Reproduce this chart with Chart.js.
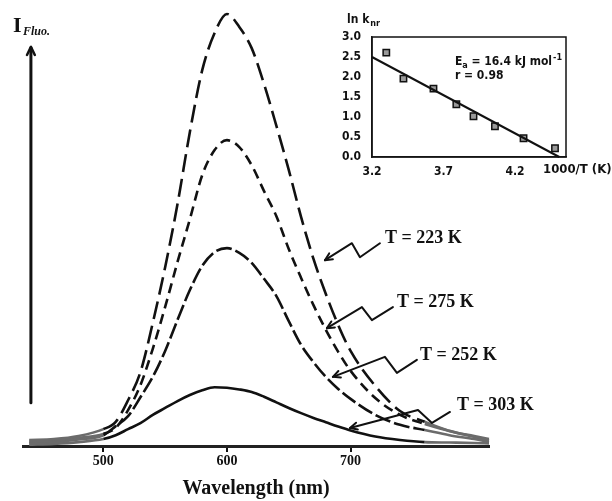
<!DOCTYPE html>
<html><head><meta charset="utf-8">
<script src="https://cdn.jsdelivr.net/npm/chart.js@4.4.1/dist/chart.umd.min.js"></script>
<style>
html,body{margin:0;padding:0;background:#fff;}
#wrap{position:relative;width:612px;height:501px;overflow:hidden;}
#main{position:absolute;left:0;top:0;}
#inset{position:absolute;left:330px;top:0;}
</style></head><body>
<div id="wrap">
<canvas id="main" width="612" height="501"></canvas>
<canvas id="inset" width="282" height="185"></canvas>
</div>
<script>
// ---------- main spectra (wavelength nm, fluorescence intensity, arb. units) ----------
const wavelengths = [440,460,480,500,510,520,530,540,550,560,570,580,590,600,610,620,630,640,650,660,670,680,690,700,720,740,760,780,800,812];
const I_223K = [1.4,1.6,2.3,3.9,5.6,10.6,17.1,28.5,41.4,56.0,72.7,87.0,95.6,100,97.0,92.1,83.8,74.1,63.9,53.0,43.3,35.2,28.0,22.0,13.9,8.1,5.6,3.5,2.3,1.6];
const I_275K = [1.0,1.3,1.9,2.8,4.2,8.3,14.1,22.5,32.2,42.6,52.5,62.7,68.5,70.8,69.2,65.0,59.0,53.2,45.6,38.9,32.6,26.9,21.8,17.4,11.1,7.2,5.1,3.5,2.1,1.3];
const I_252K = [0.7,0.9,1.5,2.5,4.6,6.9,11.3,16.0,22.0,29.2,36.1,41.7,44.9,45.8,44.7,42.4,38.7,34.7,28.9,23.4,19.4,16.0,13.2,10.9,7.2,4.9,3.7,2.5,1.6,0.9];
const I_303K = [0.3,0.5,0.9,1.6,2.5,3.9,5.3,7.2,8.8,10.4,11.8,12.9,13.6,13.5,13.1,12.5,11.4,10.1,8.8,7.6,6.5,5.5,4.5,3.6,2.2,1.4,0.9,0.8,0.7,0.6];
const seriesLabels = ['T = 223 K','T = 275 K','T = 252 K','T = 303 K'];
const xTicks = [500,600,700];
const xTitle = 'Wavelength (nm)';

// ---------- inset: Arrhenius plot ----------
const invT   = [3.30,3.42,3.63,3.79,3.91,4.06,4.26,4.48];
const lnKnr  = [2.61,1.96,1.71,1.32,1.02,0.77,0.47,0.22];
const fitX   = [3.2,4.51];
const fitY   = [2.5,0.0];
const insetXTicks = [3.2,3.7,4.2];
const insetYTicks = [0,0.5,1,1.5,2,2.5,3];

const serif = "'Liberation Serif','DejaVu Serif',serif";
const narrow = "'Liberation Sans Narrow','DejaVu Sans Condensed','Liberation Sans',sans-serif";
const ink = '#111';

// label placement (data units) + zig-zag leader offsets (px)
const tempLabels = [
  {text:seriesLabels[0], x:727.8, y:48.1, path:[[-5,5],[-25,19],[-33,5],[-60,22]]},
  {text:seriesLabels[1], x:737.5, y:33.3, path:[[-4,5],[-25,18],[-35,5],[-70,26]]},
  {text:seriesLabels[2], x:756.1, y:21.1, path:[[-3,5],[-23,18],[-35,2],[-87,22]]},
  {text:seriesLabels[3], x:786.1, y:9.5,  path:[[-7,7],[-25,18],[-39,5],[-107,23]]}
];
const yArrow = {x:441.4, from:10, to:92.4};

function tail(ctx){ return ctx.p1.parsed.x <= 500 || ctx.p0.parsed.x >= 760; }
function ds(label, vals, dash){
  return {
    label, data: wavelengths.map((x,i)=>({x, y:vals[i]})),
    borderColor: ink, borderWidth: 2.6, borderDash: dash, pointRadius: 0,
    cubicInterpolationMode: 'monotone', fill: false, clip: false,
    segment: {
      borderColor: c => tail(c) ? '#6b6b6b' : undefined,
      borderDash: c => tail(c) ? [] : undefined
    }
  };
}

function arrowHead(ctx, fx, fy, tx, ty, len){
  const a = Math.atan2(ty-fy, tx-fx);
  ctx.beginPath();
  ctx.moveTo(tx - len*Math.cos(a-0.45), ty - len*Math.sin(a-0.45));
  ctx.lineTo(tx, ty);
  ctx.lineTo(tx - len*Math.cos(a+0.45), ty - len*Math.sin(a+0.45));
  ctx.stroke();
}

const mainDeco = {
  id:'mainDeco',
  afterDraw(chart){
    const {ctx, scales:{x, y}} = chart;
    ctx.save();
    ctx.strokeStyle = ink; ctx.fillStyle = ink; ctx.lineCap = 'round'; ctx.lineJoin = 'round';
    // intensity arrow
    const ax = x.getPixelForValue(yArrow.x), ab = y.getPixelForValue(yArrow.from), at = y.getPixelForValue(yArrow.to);
    ctx.lineWidth = 3;
    ctx.beginPath(); ctx.moveTo(ax, ab); ctx.lineTo(ax, at+1); ctx.stroke();
    ctx.lineWidth = 2.5;
    arrowHead(ctx, ax, ab, ax, at, 9);
    // I_Fluo. label
    ctx.textBaseline = 'alphabetic'; ctx.textAlign = 'left';
    ctx.font = 'bold 22px ' + serif;
    ctx.fillText('I', ax-18, at-15);
    ctx.font = 'bold italic 12px ' + serif;
    ctx.fillText('Fluo.', ax-8, at-12);
    // temperature labels
    ctx.font = 'bold 18px ' + serif;
    ctx.textBaseline = 'middle';
    tempLabels.forEach(l=>{
      const px = x.getPixelForValue(l.x), py = y.getPixelForValue(l.y);
      ctx.fillText(l.text, px, py);
      ctx.lineWidth = 2;
      ctx.beginPath();
      l.path.forEach((p,i)=>{ const X=px+p[0], Y=py+p[1]; i?ctx.lineTo(X,Y):ctx.moveTo(X,Y); });
      ctx.stroke();
      const n = l.path.length, a = l.path[n-2], b = l.path[n-1];
      arrowHead(ctx, px+a[0], py+a[1], px+b[0], py+b[1], 8);
    });
    ctx.restore();
  }
};

new Chart(document.getElementById('main'), {
  type:'line',
  data:{datasets:[
    ds(seriesLabels[0], I_223K, [18,7]),
    ds(seriesLabels[1], I_275K, [10,6]),
    ds(seriesLabels[2], I_252K, [16,4]),
    ds(seriesLabels[3], I_303K, [])
  ]},
  options:{
    responsive:false, animation:false, devicePixelRatio:1,
    layout:{padding:{left:23,right:123,top:14,bottom:0}},
    plugins:{legend:{display:false}, tooltip:{enabled:false}},
    scales:{
      x:{type:'linear', min:435, max:812,
        afterBuildTicks: s => { s.ticks = xTicks.map(v=>({value:v})); },
        afterFit: s => { s.height = 55; },
        grid:{display:true, drawOnChartArea:false, drawTicks:true, tickLength:6, color:ink, lineWidth:2},
        border:{display:true, color:'#222', width:3},
        ticks:{padding:1, color:ink, autoSkip:false, maxRotation:0, font:{family:serif, size:14, weight:'bold'}, callback:v=>String(v)},
        title:{display:true, text:xTitle, color:ink, font:{family:serif, size:20, weight:'bold', lineHeight:1.2}, padding:{top:0,bottom:0}}
      },
      y:{display:false, min:0, max:100}
    }
  },
  plugins:[mainDeco]
});

const insetDeco = {
  id:'insetDeco',
  afterDraw(chart){
    const {ctx, chartArea:a, scales:{x, y}} = chart;
    ctx.save();
    ctx.strokeStyle = ink; ctx.fillStyle = ink; ctx.lineWidth = 1.5;
    ctx.strokeRect(a.left, a.top, a.right-a.left, a.bottom-a.top);
    ctx.textAlign = 'left'; ctx.textBaseline = 'alphabetic';
    // ln k_nr
    ctx.font = 'bold 12px ' + narrow;
    ctx.fillText('ln k', a.left-25, a.top-14);
    const w = ctx.measureText('ln k').width;
    ctx.font = 'bold 9px ' + narrow;
    ctx.fillText('nr', a.left-25+w+1, a.top-11);
    // Ea and r
    const ex = x.getPixelForValue(3.78);
    let ey = y.getPixelForValue(2.4) + 4;
    ctx.font = 'bold 12px ' + narrow;
    ctx.fillText('E', ex, ey);
    let cx = ex + ctx.measureText('E').width;
    ctx.font = 'bold 9px ' + narrow;
    ctx.fillText('a', cx, ey+3);
    cx += ctx.measureText('a').width;
    ctx.font = 'bold 12px ' + narrow;
    const mid = ' = 16.4 kJ mol';
    ctx.fillText(mid, cx, ey);
    cx += ctx.measureText(mid).width;
    ctx.font = 'bold 9px ' + narrow;
    ctx.fillText('-1', cx+1, ey-5);
    ctx.font = 'bold 12px ' + narrow;
    ctx.fillText('r = 0.98', ex, y.getPixelForValue(2.05) + 4);
    // axis title
    ctx.font = 'bold 13px ' + narrow;
    ctx.textBaseline = 'middle';
    ctx.fillText('1000/T (K)', a.right-23, a.bottom+13);
    ctx.restore();
  }
};

new Chart(document.getElementById('inset'), {
  type:'scatter',
  data:{datasets:[
    {type:'line', data: fitX.map((v,i)=>({x:v, y:fitY[i]})), borderColor:ink, borderWidth:2, pointRadius:0, clip:false},
    {type:'scatter', data: invT.map((v,i)=>({x:v, y:lnKnr[i]})), pointStyle:'rect', pointRadius:4.5, backgroundColor:'#9a9a9a', borderColor:ink, borderWidth:1.5, clip:false}
  ]},
  options:{
    responsive:false, animation:false, devicePixelRatio:1,
    layout:{padding:{left:0,top:37,right:46,bottom:0}},
    plugins:{legend:{display:false}, tooltip:{enabled:false}},
    scales:{
      x:{type:'linear', min:3.2, max:4.557,
        afterBuildTicks: s => { s.ticks = insetXTicks.map(v=>({value:v})); },
        afterFit: s => { s.height = 28; },
        grid:{display:false}, border:{display:true, color:'#222', width:1.5},
        ticks:{padding:0, color:ink, autoSkip:false, maxRotation:0, font:{family:narrow, size:12, weight:'bold'}, callback:v=>v.toFixed(1)}
      },
      y:{type:'linear', min:0, max:3,
        afterBuildTicks: s => { s.ticks = insetYTicks.map(v=>({value:v})); },
        afterFit: s => { s.width = 42; },
        grid:{display:false}, border:{display:true, color:'#222', width:1.5},
        ticks:{padding:3, color:ink, font:{family:narrow, size:12, weight:'bold'}, callback:v=>v.toFixed(1)}
      }
    }
  },
  plugins:[insetDeco]
});
</script>
</body></html>
